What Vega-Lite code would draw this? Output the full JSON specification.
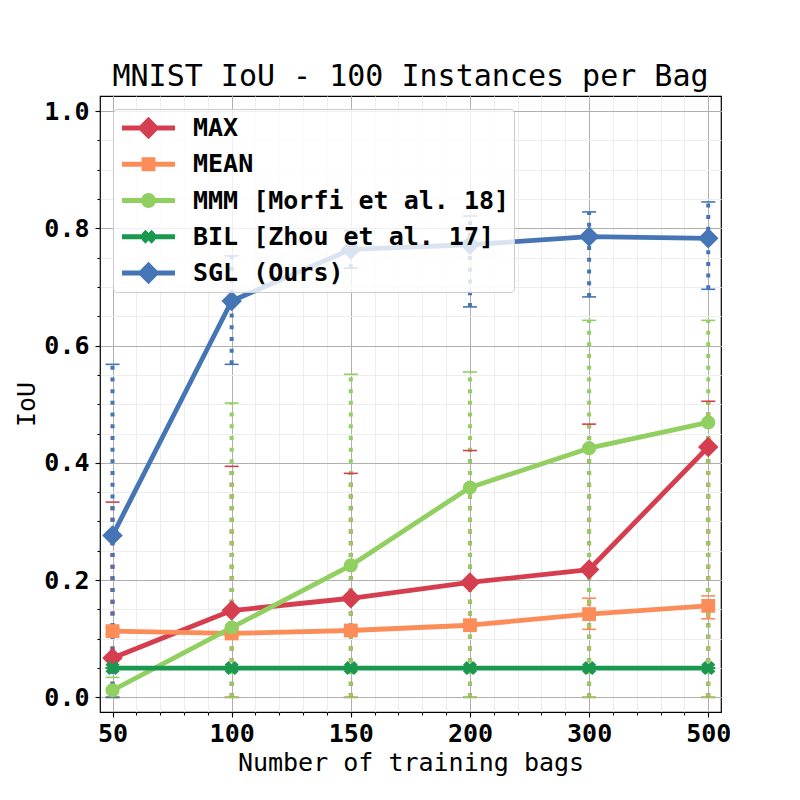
{
  "$schema": "https://vega.github.io/schema/vega-lite/v6.json",
  "width": 621,
  "height": 616,
  "autosize": {"type": "none"},
  "padding": {"left": 100, "top": 96, "right": 79, "bottom": 88},
  "background": "white",
  "title": {"text": "MNIST IoU - 100 Instances per Bag"},
  "data": {"values": [
    {"method": "MAX", "bags": 50, "iou": 0.067, "lo": 0, "hi": 0.333},
    {"method": "MAX", "bags": 100, "iou": 0.148, "lo": 0, "hi": 0.394},
    {"method": "MAX", "bags": 150, "iou": 0.169, "lo": 0, "hi": 0.382},
    {"method": "MAX", "bags": 200, "iou": 0.196, "lo": 0, "hi": 0.421},
    {"method": "MAX", "bags": 300, "iou": 0.218, "lo": 0, "hi": 0.466},
    {"method": "MAX", "bags": 500, "iou": 0.427, "lo": 0, "hi": 0.505},
    {"method": "MEAN", "bags": 50, "iou": 0.113, "lo": 0.108, "hi": 0.118},
    {"method": "MEAN", "bags": 100, "iou": 0.109, "lo": 0.104, "hi": 0.114},
    {"method": "MEAN", "bags": 150, "iou": 0.114, "lo": 0.109, "hi": 0.119},
    {"method": "MEAN", "bags": 200, "iou": 0.123, "lo": 0.118, "hi": 0.128},
    {"method": "MEAN", "bags": 300, "iou": 0.142, "lo": 0.116, "hi": 0.169},
    {"method": "MEAN", "bags": 500, "iou": 0.156, "lo": 0.134, "hi": 0.173},
    {"method": "MMM [Morfi et al. 18]", "bags": 50, "iou": 0.012, "lo": 0, "hi": 0.034},
    {"method": "MMM [Morfi et al. 18]", "bags": 100, "iou": 0.119, "lo": 0, "hi": 0.502},
    {"method": "MMM [Morfi et al. 18]", "bags": 150, "iou": 0.225, "lo": 0, "hi": 0.551},
    {"method": "MMM [Morfi et al. 18]", "bags": 200, "iou": 0.358, "lo": 0, "hi": 0.555},
    {"method": "MMM [Morfi et al. 18]", "bags": 300, "iou": 0.425, "lo": 0, "hi": 0.643},
    {"method": "MMM [Morfi et al. 18]", "bags": 500, "iou": 0.469, "lo": 0, "hi": 0.643},
    {"method": "BIL [Zhou et al. 17]", "bags": 50, "iou": 0.05, "lo": 0.05, "hi": 0.05},
    {"method": "BIL [Zhou et al. 17]", "bags": 100, "iou": 0.05, "lo": 0.05, "hi": 0.05},
    {"method": "BIL [Zhou et al. 17]", "bags": 150, "iou": 0.05, "lo": 0.05, "hi": 0.05},
    {"method": "BIL [Zhou et al. 17]", "bags": 200, "iou": 0.05, "lo": 0.05, "hi": 0.05},
    {"method": "BIL [Zhou et al. 17]", "bags": 300, "iou": 0.05, "lo": 0.05, "hi": 0.05},
    {"method": "BIL [Zhou et al. 17]", "bags": 500, "iou": 0.05, "lo": 0.05, "hi": 0.05},
    {"method": "SGL (Ours)", "bags": 50, "iou": 0.276, "lo": 0, "hi": 0.568},
    {"method": "SGL (Ours)", "bags": 100, "iou": 0.676, "lo": 0.568, "hi": 0.753},
    {"method": "SGL (Ours)", "bags": 150, "iou": 0.764, "lo": 0.732, "hi": 0.796},
    {"method": "SGL (Ours)", "bags": 200, "iou": 0.772, "lo": 0.666, "hi": 0.821},
    {"method": "SGL (Ours)", "bags": 300, "iou": 0.786, "lo": 0.683, "hi": 0.828},
    {"method": "SGL (Ours)", "bags": 500, "iou": 0.783, "lo": 0.696, "hi": 0.845}
  ]},
  "transform": [
    {"window": [{"op": "row_number", "as": "idx"}], "groupby": ["method"], "sort": [{"field": "bags", "order": "ascending"}]}
  ],
  "encoding": {
    "x": {"field": "idx", "type": "quantitative", "scale": {"domain": [0.895, 6.107], "nice": false, "zero": false}, "axis": null},
    "color": {"field": "method", "type": "nominal", "legend": null,
      "scale": {"domain": ["MAX", "MEAN", "MMM [Morfi et al. 18]", "BIL [Zhou et al. 17]", "SGL (Ours)"],
                "range": ["#d53e4f", "#fc8d59", "#91cf60", "#1a9850", "#4575b4"]}}
  },
  "layer": [
    {
      "mark": {"type": "rule", "strokeWidth": 4, "strokeDash": [4, 7.7], "strokeCap": "butt"},
      "encoding": {
        "x": {"field": "idx", "type": "quantitative", "scale": {"domain": [0.895, 6.107], "nice": false, "zero": false},
              "axis": {"orient": "bottom", "values": [1, 1.2, 1.4, 1.6, 1.8, 2, 2.2, 2.4, 2.6, 2.8, 3, 3.2, 3.4, 3.6, 3.8, 4, 4.2, 4.4, 4.6, 4.8, 5, 5.2, 5.4, 5.6, 5.8, 6],
                       "labels": false, "tickSize": 3, "grid": true, "gridColor": "#ededed", "gridWidth": 1, "title": null}},
        "y": {"field": "lo", "type": "quantitative", "scale": {"domain": [-0.025, 1.0257], "nice": false, "zero": false},
              "axis": {"orient": "left", "values": [0, 0.05, 0.1, 0.15, 0.2, 0.25, 0.3, 0.35, 0.4, 0.45, 0.5, 0.55, 0.6, 0.65, 0.7, 0.75, 0.8, 0.85, 0.9, 0.95, 1.0],
                       "labels": false, "tickSize": 3, "grid": true, "gridColor": "#ededed", "gridWidth": 1, "title": null}},
        "y2": {"field": "hi"}
      }
    },
    {
      "mark": {"type": "tick", "orient": "horizontal", "size": 14, "thickness": 1.6, "opacity": 1},
      "encoding": {
        "y": {"field": "hi", "type": "quantitative", "scale": {"domain": [-0.025, 1.0257], "nice": false, "zero": false}, "axis": null}
      }
    },
    {
      "mark": {"type": "tick", "orient": "horizontal", "size": 14, "thickness": 1.6, "opacity": 1},
      "encoding": {
        "y": {"field": "lo", "type": "quantitative", "scale": {"domain": [-0.025, 1.0257], "nice": false, "zero": false}, "axis": null}
      }
    },
    {
      "mark": {"type": "line", "strokeWidth": 4.8, "strokeCap": "square", "strokeJoin": "round"},
      "encoding": {
        "x": {"field": "idx", "type": "quantitative", "scale": {"domain": [0.895, 6.107], "nice": false, "zero": false},
              "axis": {"orient": "bottom", "values": [1, 2, 3, 4, 5, 6], "labelExpr": "['50','100','150','200','300','500'][datum.value - 1]",
                       "tickSize": 5, "labelPadding": 4, "grid": true, "gridColor": "#b0b0b0", "gridWidth": 1, "title": "Number of training bags", "titlePadding": 4}},
        "y": {"field": "iou", "type": "quantitative", "scale": {"domain": [-0.025, 1.0257], "nice": false, "zero": false},
              "axis": {"orient": "left", "values": [0, 0.2, 0.4, 0.6, 0.8, 1.0], "format": ".1f",
                       "tickSize": 5, "labelPadding": 6, "grid": true, "gridColor": "#b0b0b0", "gridWidth": 1, "title": "IoU", "titlePadding": 4}}
      }
    },
    {
      "mark": {"type": "point", "filled": true, "opacity": 1, "strokeWidth": 0},
      "encoding": {
        "y": {"field": "iou", "type": "quantitative", "scale": {"domain": [-0.025, 1.0257], "nice": false, "zero": false}, "axis": null},
        "shape": {"field": "method", "type": "nominal", "legend": null,
          "scale": {"domain": ["MAX", "MEAN", "MMM [Morfi et al. 18]", "BIL [Zhou et al. 17]", "SGL (Ours)"],
                    "range": ["diamond", "square", "circle", "M-1,-0.45L-0.45,-1L0,-0.55L0.45,-1L1,-0.45L0.55,0L1,0.45L0.45,1L0,0.55L-0.45,1L-1,0.45L-0.55,0Z", "diamond"]}},
        "size": {"field": "method", "type": "nominal", "legend": null,
          "scale": {"type": "ordinal", "domain": ["MAX", "MEAN", "MMM [Morfi et al. 18]", "BIL [Zhou et al. 17]", "SGL (Ours)"],
                    "range": [420, 190, 200, 200, 420]}}
      }
    },
    {
      "transform": [{"filter": "false"}],
      "mark": {"type": "point", "filled": true, "opacity": 1},
      "encoding": {
        "y": {"field": "iou", "type": "quantitative", "scale": {"domain": [-0.025, 1.0257], "nice": false, "zero": false}, "axis": null},
        "color": {"field": "method", "type": "nominal", "legend": {"title": null},
          "scale": {"domain": ["MAX", "MEAN", "MMM [Morfi et al. 18]", "BIL [Zhou et al. 17]", "SGL (Ours)"],
                    "range": ["#d53e4f", "#fc8d59", "#91cf60", "#1a9850", "#4575b4"]}},
        "shape": {"field": "method", "type": "nominal", "legend": {"title": null},
          "scale": {"domain": ["MAX", "MEAN", "MMM [Morfi et al. 18]", "BIL [Zhou et al. 17]", "SGL (Ours)"],
                    "range": [
                      "M-1,-0.09H1V0.09H-1Z M0,-0.42L0.42,0L0,0.42L-0.42,0Z",
                      "M-1,-0.09H1V0.09H-1Z M-0.26,-0.26H0.26V0.26H-0.26Z",
                      "M-1,-0.09H1V0.09H-1Z M-0.28,0A0.28,0.28,0,1,1,0.28,0A0.28,0.28,0,1,1,-0.28,0Z",
                      "M-1,-0.09H1V0.09H-1Z M-0.26,-0.117L-0.117,-0.26L0,-0.143L0.117,-0.26L0.26,-0.117L0.143,0L0.26,0.117L0.117,0.26L0,0.143L-0.117,0.26L-0.26,0.117L-0.143,0Z",
                      "M-1,-0.09H1V0.09H-1Z M0,-0.42L0.42,0L0,0.42L-0.42,0Z"
                    ]}}
      }
    }
  ],
  "resolve": {
    "scale": {"color": "independent", "shape": "independent", "size": "independent"},
    "axis": {"x": "independent", "y": "independent"}
  },
  "config": {
    "font": "DejaVu Sans Mono",
    "view": {"stroke": "#000000", "strokeWidth": 1.2},
    "axis": {
      "labelFont": "DejaVu Sans Mono", "labelFontSize": 25, "labelFontWeight": "bold", "labelColor": "#000000",
      "titleFont": "DejaVu Sans Mono", "titleFontSize": 25, "titleFontWeight": "normal", "titleColor": "#000000",
      "tickColor": "#000000", "tickWidth": 1.1, "domain": false, "labelOverlap": false
    },
    "title": {"font": "DejaVu Sans Mono", "fontSize": 30, "fontWeight": "normal", "color": "#000000", "anchor": "middle", "baseline": "alphabetic", "offset": 4},
    "legend": {
      "orient": "top-left", "offset": 13, "padding": 4, "symbolSize": 2809, "symbolOffset": 5, "labelOffset": 18,
      "clipHeight": 30, "rowPadding": 6.25, "labelFont": "DejaVu Sans Mono", "labelFontSize": 25, "labelFontWeight": "bold",
      "labelColor": "#000000", "labelLimit": 600, "fillColor": "rgba(255,255,255,0.8)", "strokeColor": "#cccccc",
      "cornerRadius": 4, "symbolStrokeWidth": 0, "symbolOpacity": 1, "zindex": 1
    }
  }
}
